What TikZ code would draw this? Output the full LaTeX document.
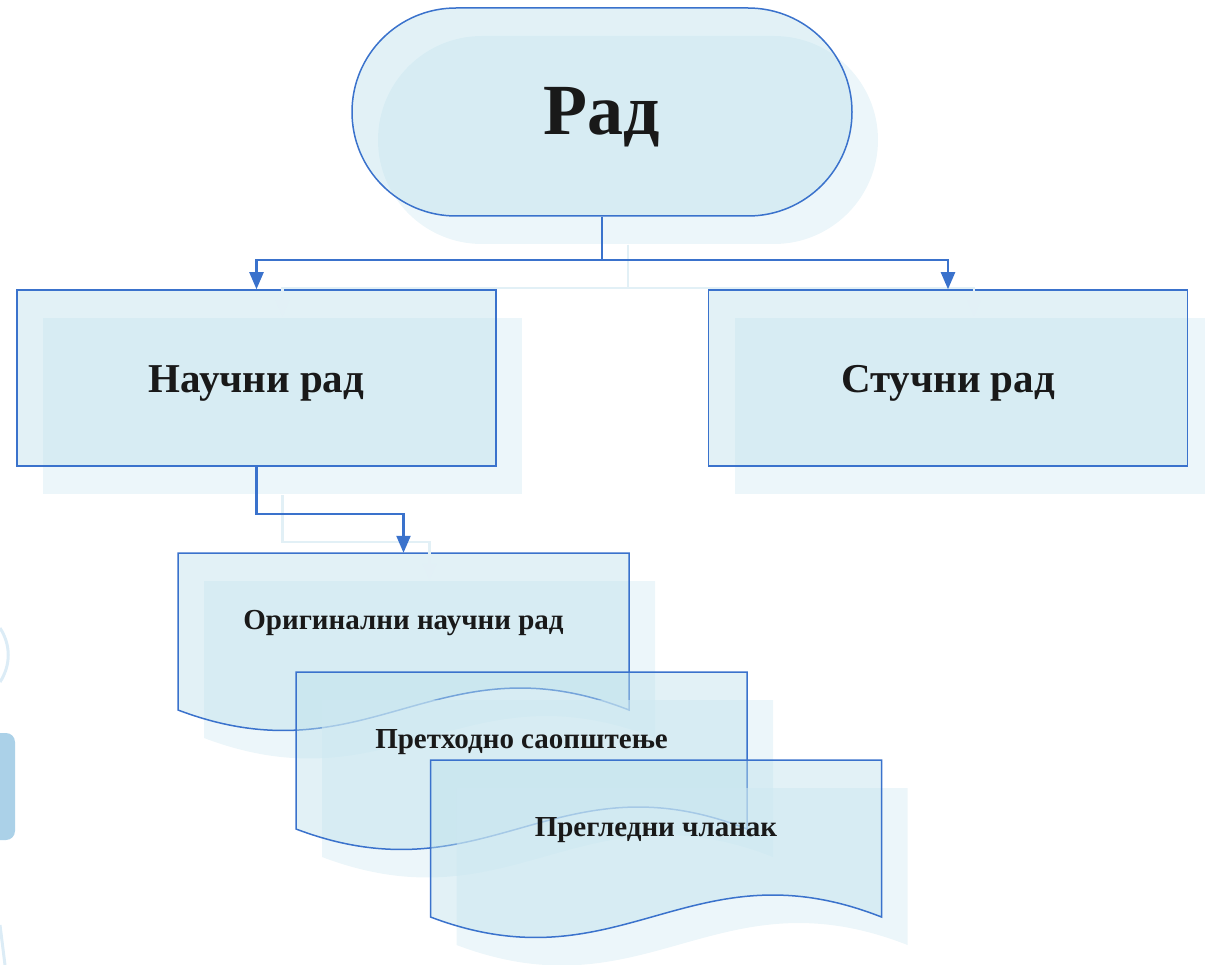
\documentclass[tikz,border=0pt]{standalone}
\usepackage{fontspec}
\setmainfont{Liberation Serif}
\usetikzlibrary{arrows.meta,calc,shadows}

\definecolor{lineblue}{RGB}{58,114,204}
\definecolor{boxfill}{RGB}{190,225,236}
\definecolor{shadefill}{RGB}{220,238,245}
\definecolor{ghostline}{RGB}{226,240,246}
\definecolor{sideblue}{RGB}{171,209,232}
\definecolor{sidefaint}{RGB}{220,236,246}

\tikzset{
  copyshade/.style={general shadow={shadow xshift=26pt, shadow yshift=-28pt,
      fill=shadefill, fill opacity=.55, draw=none}},
  flowshape/.style={draw=lineblue, line width=1.5pt, fill=boxfill, fill opacity=.45,
      text opacity=1, text=black!90, copyshade},
  term/.style={flowshape, rounded corners=104pt, minimum width=500pt, minimum height=208pt,
      text height=59pt, text depth=14pt,
      font=\bfseries\fontsize{72}{76}\selectfont},
  box/.style={flowshape, minimum width=479pt, minimum height=176pt,
      text height=38pt, text depth=9pt,
      font=\bfseries\fontsize{41}{44}\selectfont},
  doc/.style={flowshape},
  docnode/.style={minimum width=451pt, minimum height=134pt, text=black!90,
      text height=24pt, text depth=6pt,
      font=\bfseries\fontsize{29}{32}\selectfont},
  conn/.style={draw=lineblue, line width=2.2pt, -{Triangle[width=14pt,length=17pt]}},
  ghost/.style={conn, draw=ghostline},
}

% document symbol, #1 = centre of its text
\newcommand{\docshape}[1]{%
  \draw[doc] ($#1+(-225.5,-67)$) -- ++(451,0) -- ++(0,157)
    .. controls +(-191,-75) and +(190,72) .. ++(-451,0) -- cycle;}

\begin{document}
\begin{tikzpicture}[x=1pt, y=-1pt]
  \useasboundingbox (0,0) rectangle (1205,965);

  % 1. Ornaments cut off at the left edge
  \draw[sidefaint, line width=3pt] (0,628) .. controls (11,645) and (11,665) .. (0,682);
  \fill[sideblue, rounded corners=9pt] (-20,733) rectangle (15,840);
  \draw[sidefaint, line width=3pt] (0,925) -- (5,965);

  % 2. Terminator and the two boxes
  \node[term] (rad) at (602,112) {Рад};
  \node[box] (naucni) at (256.5,378) {Научни рад};
  \node[box] (strucni) at (948,378) {Стучни рад};

  % 3. Documents
  \docshape{(403.5,620)}
  \node[docnode] (orig) at (403.5,620) {Оригинални научни рад};
  \docshape{(521.5,739)}
  \node[docnode] (preth) at (521.5,739) {Претходно саопштење};
  \docshape{(656,827)}
  \node[docnode] (pregl) at (656,827) {Прегледни чланак};

  % 4. Shadow copies of the connectors
  \draw[ghost] ([shift={(26,28)}]rad.south) -- ++(0,43) -| ([shift={(26,28)}]naucni.north);
  \draw[ghost] ([shift={(26,28)}]rad.south) -- ++(0,43) -| ([shift={(26,28)}]strucni.north);
  \draw[ghost] ([shift={(26,28)}]naucni.south) -- ++(0,47) -| ([shift={(26,28)}]orig.north);

  % 5. Connectors
  \draw[conn] (rad.south) -- ++(0,43) -| (naucni.north);
  \draw[conn] (rad.south) -- ++(0,43) -| (strucni.north);
  \draw[conn] (naucni.south) -- ++(0,47) -| (orig.north);
\end{tikzpicture}
\end{document}
